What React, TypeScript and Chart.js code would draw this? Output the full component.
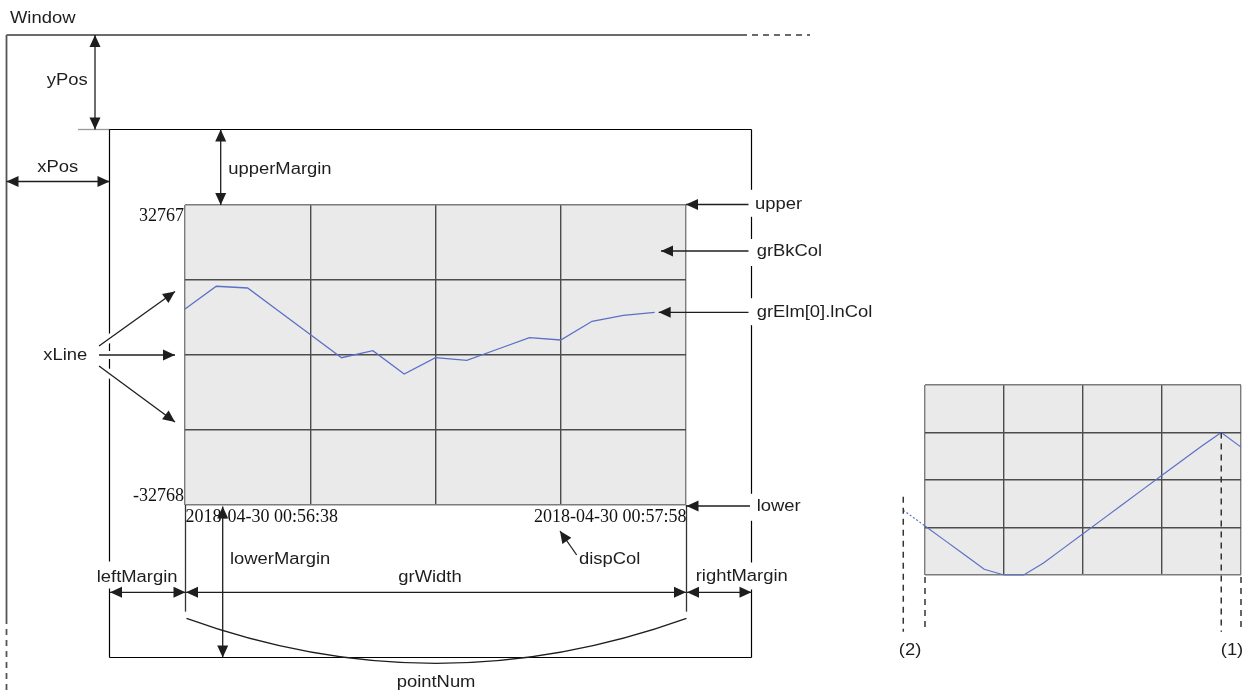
import React, { useEffect, useRef } from "react";
import { Chart, registerables } from "chart.js";

Chart.register(...registerables);

// ---------- data ----------
const Y_MIN = -32768;
const Y_MAX = 32767;
const GRID_DIV = 4;
const X_SPAN = 16;
const yTickLabels = ["32767", "-32768"];
const timeLabels = ["2018-04-30 00:56:38", "2018-04-30 00:57:58"];
const mainIndex = [0, 1, 2, 3, 4, 5, 6, 7, 8, 9, 10, 11, 12, 13, 14, 15];
const mainValues = [10050, 15010, 14640, 9570, 4500, -590, 940, -4150, -590, -1160, 1310, 3780, 3280, 7360, 8670, 9330];
const subIndex = [-1.1, 0, 1, 2, 3, 4, 5, 6, 7, 8, 9, 10, 11, 12, 13, 14, 15, 16];
const subValues = [-10420, -15860, -20820, -25820, -30800, -32768, -32768, -28620, -23590, -18550, -13500, -8450, -3410, 1630, 6620, 11670, 16384, 11340];
const subMarks = ["(2)", "(1)"];

const SANS = '16px "Liberation Sans", Arial, sans-serif';
const SERIF = '18px "Liberation Serif", "Times New Roman", serif';
const STRETCH = 1.15;
const LINE_BLUE = "#5b70c6";
const BG = "#eaeaea";
const INK = "#1e1e1e";

function sansText(ctx: CanvasRenderingContext2D, s: string, x: number, base: number) {
  ctx.save();
  ctx.font = SANS;
  ctx.fillStyle = INK;
  ctx.textAlign = "left";
  ctx.textBaseline = "alphabetic";
  ctx.translate(x, base);
  ctx.scale(STRETCH, 1);
  ctx.fillText(s, 0, 0);
  ctx.restore();
}
function sansWidth(ctx: CanvasRenderingContext2D, s: string) {
  ctx.save();
  ctx.font = SANS;
  const w = ctx.measureText(s).width * STRETCH;
  ctx.restore();
  return w;
}
function head(ctx: CanvasRenderingContext2D, x1: number, y1: number, x2: number, y2: number, len = 12, hw = 5.5) {
  const a = Math.atan2(y2 - y1, x2 - x1);
  const c = Math.cos(a), s = Math.sin(a);
  ctx.beginPath();
  ctx.moveTo(x2, y2);
  ctx.lineTo(x2 - len * c + hw * s, y2 - len * s - hw * c);
  ctx.lineTo(x2 - len * c - hw * s, y2 - len * s + hw * c);
  ctx.closePath();
  ctx.fill();
}
function arrow(ctx: CanvasRenderingContext2D, x1: number, y1: number, x2: number, y2: number, both = false) {
  ctx.save();
  ctx.strokeStyle = INK;
  ctx.fillStyle = INK;
  ctx.lineWidth = 1.3;
  ctx.setLineDash([]);
  ctx.beginPath();
  ctx.moveTo(x1, y1);
  ctx.lineTo(x2, y2);
  ctx.stroke();
  head(ctx, x1, y1, x2, y2);
  if (both) head(ctx, x2, y2, x1, y1);
  ctx.restore();
}
function seg(ctx: CanvasRenderingContext2D, x1: number, y1: number, x2: number, y2: number, color: string, w: number, dash: number[] = []) {
  ctx.save();
  ctx.strokeStyle = color;
  ctx.lineWidth = w;
  ctx.setLineDash(dash);
  ctx.beginPath();
  ctx.moveTo(x1, y1);
  ctx.lineTo(x2, y2);
  ctx.stroke();
  ctx.restore();
}

const bgPlugin = {
  id: "bgfill",
  beforeDraw(chart: any) {
    const { ctx, chartArea: a } = chart;
    ctx.save();
    ctx.fillStyle = BG;
    ctx.fillRect(a.left, a.top, a.right - a.left, a.bottom - a.top);
    ctx.restore();
  },
};

const gridColor = (c: any) => (c.index === 0 || c.index === GRID_DIV ? "#7c7c7c" : "#4c4c4c");
const xTicks = (s: any) => {
  s.ticks = Array.from({ length: GRID_DIV + 1 }, (_, i) => ({ value: (i * X_SPAN) / GRID_DIV }));
};
const yTicks = (s: any) => {
  s.ticks = Array.from({ length: GRID_DIV + 1 }, (_, i) => ({ value: Y_MIN + (i * (Y_MAX - Y_MIN)) / GRID_DIV }));
};
const scaleOpts = (after: any, min: number, max: number) => ({
  type: "linear" as const,
  min,
  max,
  afterBuildTicks: after,
  ticks: { display: false },
  grid: { color: gridColor, lineWidth: 1.4, drawTicks: false },
  border: { display: false },
});

const diagramPlugin = {
  id: "diagram",
  afterDraw(chart: any) {
    const { ctx, chartArea: a } = chart;
    const xs = chart.scales.x;
    const ys = chart.scales.y;
    ctx.save();

    // window frame
    seg(ctx, 6.5, 35, 741, 35, "#3a3a3a", 1.6);
    seg(ctx, 741, 35, 810, 35, "#3a3a3a", 1.6, [6, 5]);
    seg(ctx, 6.5, 35, 6.5, 618, "#555", 1.8);
    seg(ctx, 6.5, 618, 6.5, 691, "#555", 1.8, [6, 5]);

    // object box
    seg(ctx, 78, 129.5, 110, 129.5, "#999", 1.3);
    seg(ctx, 109.5, 129.5, 751.5, 129.5, "#000", 1.2);
    seg(ctx, 751.5, 129.5, 751.5, 657.5, "#000", 1.2);
    seg(ctx, 109.5, 657.5, 751.5, 657.5, "#000", 1.2);
    seg(ctx, 109.5, 129.5, 109.5, 657.5, "#000", 1.2);

    // white backdrops where labels interrupt the box
    const gaps: [string, number, number][] = [
      ["upper", 755, 203.3],
      ["grBkCol", 756.7, 252.5],
      ["grElm[0].lnCol", 756.7, 311.7],
      ["lower", 756.7, 507.3],
      ["rightMargin", 695.7, 576],
      ["leftMargin", 96.7, 575],
    ];
    ctx.fillStyle = "#fff";
    for (const [t, x, cy] of gaps) {
      const w = sansWidth(ctx, t);
      const left = t === "rightMargin" ? x - 2 : t === "leftMargin" ? x - 3 : 748.5;
      ctx.fillRect(left, cy - 13.5, x + w + 2 - left, 27);
    }

    // axis value labels (serif)
    ctx.font = SERIF;
    ctx.fillStyle = "#111";
    ctx.textBaseline = "alphabetic";
    ctx.textAlign = "right";
    ctx.fillText(yTickLabels[0], a.left - 1, a.top + 15.5);
    ctx.fillText(yTickLabels[1], a.left - 1, a.bottom - 4.3);
    ctx.textAlign = "left";
    ctx.fillText(timeLabels[0], a.left + 0.5, a.bottom + 16.5);
    ctx.textAlign = "right";
    ctx.fillText(timeLabels[1], a.right + 0.5, a.bottom + 16.5);

    // extension lines for grWidth
    seg(ctx, a.left + 0.5, a.bottom, a.left + 0.5, 611.7, "#333", 1.3);
    seg(ctx, a.right + 0.5, a.bottom, a.right + 0.5, 611.7, "#333", 1.3);

    // xLine arrows with white halo
    const gy = [ys.getPixelForValue(Y_MIN + 3 * (Y_MAX - Y_MIN) / 4), ys.getPixelForValue(Y_MIN + 2 * (Y_MAX - Y_MIN) / 4), ys.getPixelForValue(Y_MIN + (Y_MAX - Y_MIN) / 4)];
    const starts = [346, 355, 366];
    const tipsY = [gy[0] + 11.5, gy[1], gy[2] - 8];
    for (let i = 0; i < 3; i++) {
      seg(ctx, 99, starts[i], 150, starts[i] + (tipsY[i] - starts[i]) * (51 / 76), "#fff", 8);
    }
    for (let i = 0; i < 3; i++) arrow(ctx, 99, starts[i], a.left - 10, tipsY[i]);

    // dimension arrows
    arrow(ctx, 95, 35, 95, 129.5, true);
    arrow(ctx, 6.5, 181.5, 109.5, 181.5, true);
    arrow(ctx, 220.7, 129.5, 220.7, a.top, true);
    arrow(ctx, 748.5, a.top - 0.5, a.right, a.top - 0.5);
    arrow(ctx, 748.5, 251, 661, 251);
    const lastI = mainIndex.length - 1;
    arrow(ctx, 748.5, ys.getPixelForValue(mainValues[lastI]), xs.getPixelForValue(mainIndex[lastI]) + 4, ys.getPixelForValue(mainValues[lastI]));
    arrow(ctx, 750, a.bottom + 1, a.right + 0.5, a.bottom + 1);
    arrow(ctx, 576.7, 555, 560, 531);
    arrow(ctx, 222.7, a.bottom + 1.5, 222.7, 657.5, true);
    arrow(ctx, 110, 592.3, a.left + 0.5, 592.3, true);
    arrow(ctx, a.left + 1, 592.3, a.right, 592.3, true);
    arrow(ctx, a.right + 1, 592.3, 751.5, 592.3, true);

    // pointNum arc
    ctx.save();
    ctx.strokeStyle = INK;
    ctx.lineWidth = 1.3;
    ctx.beginPath();
    ctx.moveTo(a.left + 1.5, 618.3);
    ctx.quadraticCurveTo((a.left + a.right) / 2, 708.3, a.right + 0.5, 618.3);
    ctx.stroke();
    ctx.restore();

    // sans labels
    sansText(ctx, "Window", 10, 23);
    sansText(ctx, "yPos", 46.7, 84.5);
    sansText(ctx, "xPos", 37.3, 171.5);
    sansText(ctx, "upperMargin", 228.3, 174);
    sansText(ctx, "upper", 755, 209);
    sansText(ctx, "grBkCol", 756.7, 256.3);
    sansText(ctx, "grElm[0].lnCol", 756.7, 317);
    sansText(ctx, "xLine", 43.3, 360);
    sansText(ctx, "lower", 756.7, 510.5);
    sansText(ctx, "dispCol", 579, 564);
    sansText(ctx, "lowerMargin", 230, 564.3);
    sansText(ctx, "leftMargin", 96.7, 581.5);
    sansText(ctx, "grWidth", 398.3, 581.5);
    sansText(ctx, "rightMargin", 695.7, 581.3);
    sansText(ctx, "pointNum", 396.7, 687);

    ctx.restore();
  },
};

const subPlugin = {
  id: "subguides",
  afterDraw(chart: any) {
    const { ctx, chartArea: a } = chart;
    const xs = chart.scales.x;
    const ys = chart.scales.y;
    const bottom = 261.7; // canvas-local (631.7 page)
    const dash = [6, 5];
    const x2 = xs.getPixelForValue(subIndex[0]);
    const x1 = xs.getPixelForValue(subIndex[subIndex.length - 2]);
    const y1 = ys.getPixelForValue(subValues[subValues.length - 2]);
    seg(ctx, x2, ys.getPixelForValue(subValues[0]) - 13.5, x2, bottom, "#333", 1.5, dash);
    seg(ctx, a.left, a.bottom + 2, a.left, bottom, "#333", 1.5, dash);
    seg(ctx, x1, y1, x1, bottom, "#333", 1.5, dash);
    seg(ctx, a.right, a.bottom + 2, a.right, bottom, "#333", 1.5, dash);
    sansText(ctx, subMarks[0], x2 - 4.5, 284.5);
    sansText(ctx, subMarks[1], x1 - 0.5, 284.5);
  },
};

export default function App() {
  const mainRef = useRef<HTMLCanvasElement>(null);
  const subRef = useRef<HTMLCanvasElement>(null);

  useEffect(() => {
    const c1 = new Chart(mainRef.current as HTMLCanvasElement, {
      type: "line",
      data: {
        datasets: [
          {
            data: mainIndex.map((x, i) => ({ x, y: mainValues[i] })),
            borderColor: LINE_BLUE,
            borderWidth: 1.3,
            pointRadius: 0,
            tension: 0,
          },
        ],
      },
      options: {
        responsive: false,
        animation: false,
        events: [],
        layout: { padding: { left: 185, top: 205, right: 561, bottom: 186 } },
        plugins: { legend: { display: false }, tooltip: { enabled: false } },
        scales: { x: scaleOpts(xTicks, 0, X_SPAN), y: scaleOpts(yTicks, Y_MIN, Y_MAX) },
      },
      plugins: [bgPlugin, diagramPlugin],
    } as any);

    const c2 = new Chart(subRef.current as HTMLCanvasElement, {
      type: "line",
      data: {
        datasets: [
          {
            data: subIndex.map((x, i) => ({ x, y: subValues[i] })),
            borderColor: LINE_BLUE,
            borderWidth: 1.2,
            pointRadius: 0,
            tension: 0,
            clip: false,
            segment: { borderDash: (c: any) => (c.p0DataIndex === 0 ? [2, 2] : undefined) },
          },
        ],
      },
      options: {
        responsive: false,
        animation: false,
        events: [],
        layout: { padding: { left: 65, top: 15, right: 6, bottom: 116 } },
        plugins: { legend: { display: false }, tooltip: { enabled: false } },
        scales: { x: scaleOpts(xTicks, 0, X_SPAN), y: scaleOpts(yTicks, Y_MIN, Y_MAX) },
      },
      plugins: [bgPlugin, subPlugin],
    } as any);

    return () => {
      c1.destroy();
      c2.destroy();
    };
  }, []);

  return (
    <div style={{ position: "fixed", left: 0, top: 0, width: 1247, height: 691, background: "#fff" }}>
      <canvas ref={mainRef} width={1247} height={691} style={{ position: "absolute", left: 0, top: 0 }} />
      <canvas ref={subRef} width={387} height={321} style={{ position: "absolute", left: 860, top: 370 }} />
    </div>
  );
}
